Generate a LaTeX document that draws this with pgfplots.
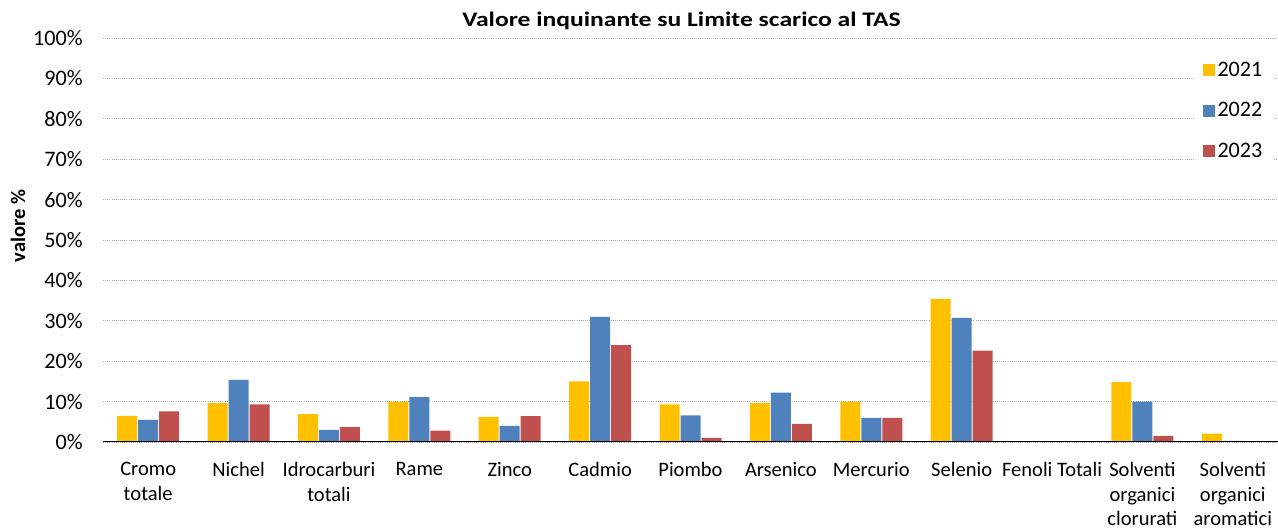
\documentclass[border=0pt]{standalone}
\usepackage{fontspec}
\setmainfont{Carlito}
\usepackage{pgfplots}
\pgfplotsset{compat=1.18}
\definecolor{c21}{HTML}{FFC000}
\definecolor{c22}{HTML}{4F81BD}
\definecolor{c23}{HTML}{C0504D}
\definecolor{gridc}{HTML}{A6A6A6}
\newcommand{\lf}{\fontsize{15.4pt}{18.5pt}\selectfont}
\newcommand{\yf}{\fontsize{15.4pt}{17pt}\selectfont}
\newcommand{\tf}{\fontsize{16.6pt}{20pt}\selectfont}
\begin{document}
\begin{tikzpicture}
\begin{axis}[
  scale only axis, width=881.25pt, height=303pt,
  ybar=0.75pt, bar width=15pt,
  xmin=-0.5, xmax=12.5, ymin=0, ymax=100,
  xtick={0,...,12},
  xticklabels={{Cromo\\totale},{Nichel},{Idrocarburi\\totali},{Rame},{Zinco},{Cadmio},{Piombo},{Arsenico},{Mercurio},{Selenio},{Fenoli Totali},{Solventi\\organici\\clorurati},{Solventi\\organici\\aromatici}},
  ytick={0,10,...,100},
  yticklabel={\pgfmathprintnumber{\tick}\%},
  /pgf/number format/assume math mode=true,
  major tick length=0pt,
  ymajorgrids, major grid style={gridc, line width=0.6pt, densely dotted},
  axis line style={draw=none},
  xticklabel style={font=\lf, align=center, anchor=north, yshift=-11.6pt},
  yticklabel style={font=\tf, anchor=east, xshift=-11.75pt},
  title={\scalebox{1.24}[1]{Valore inquinante su Limite scarico al TAS}},
  title style={font=\fontsize{15.5pt}{18pt}\selectfont\bfseries, anchor=base, at={(axis description cs:0.5,1)}, yshift=2.25pt, xshift=-6.75pt},
  ylabel={valore \%},
  ylabel style={font=\yf\bfseries, at={(axis description cs:-0.0723,0.535)}, anchor=center},
  legend style={draw=none, fill=white, font=\tf, at={(axis description cs:0.929,0.955)}, anchor=north west, row sep=14.25pt, inner xsep=6pt},
  legend cell align=left,
  legend image code/.code={\fill[#1] (-3pt,-4.5pt) rectangle (6pt,4.5pt);},
]
\addplot[fill=c21, draw=none] coordinates {(0,6.45) (1,9.6) (2,6.9) (3,10.0) (4,6.2) (5,15.0) (6,9.3) (7,9.6) (8,10.0) (9,35.4) (10,0) (11,14.8) (12,2.1)};
\addplot[fill=c22, draw=none] coordinates {(0,5.45) (1,15.4) (2,3.0) (3,11.1) (4,4.0) (5,31.0) (6,6.6) (7,12.2) (8,6.0) (9,30.7) (10,0) (11,10.0) (12,0.25)};
\addplot[fill=c23, draw=none] coordinates {(0,7.6) (1,9.3) (2,3.7) (3,2.8) (4,6.4) (5,24.0) (6,1.0) (7,4.5) (8,6.0) (9,22.6) (10,0) (11,1.5) (12,0)};
\legend{2021,2022,2023}
\draw[black, line width=0.9pt] (rel axis cs:0,0) -- (rel axis cs:1,0);
\end{axis}
\pgfresetboundingbox
\useasboundingbox (-77.25pt,-66.75pt) rectangle (881.25pt,331.5pt);
\end{tikzpicture}
\end{document}
